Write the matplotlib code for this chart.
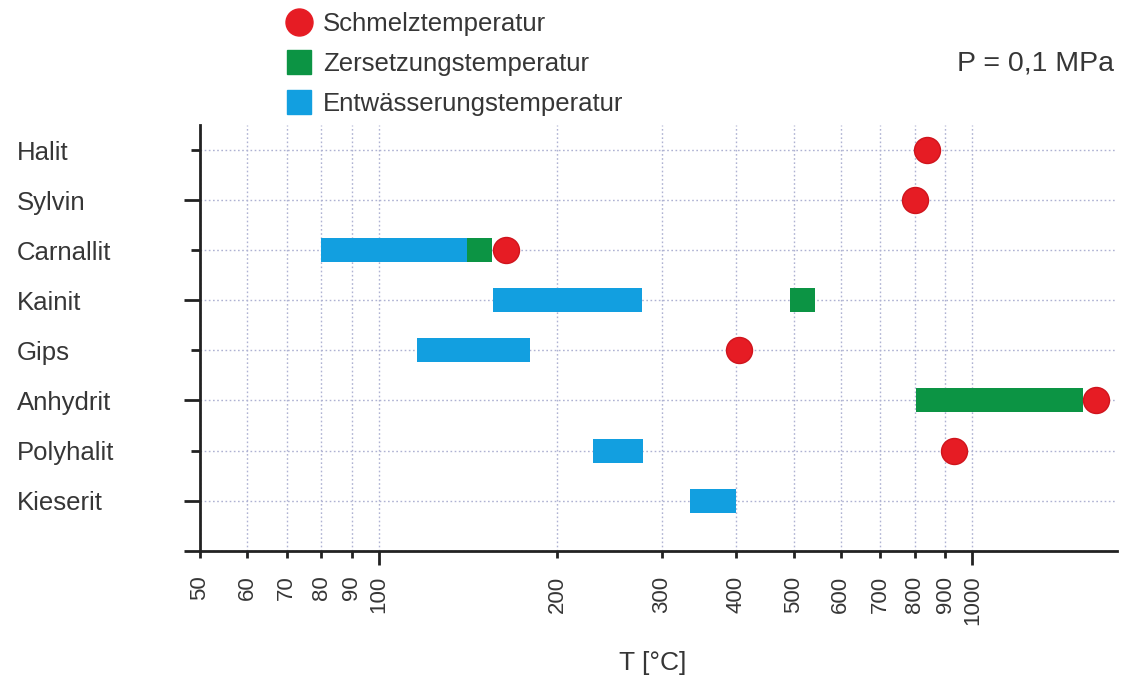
import matplotlib
matplotlib.use('Agg')
import matplotlib.pyplot as plt
import numpy as np
from matplotlib.lines import Line2D

plt.rcParams['font.family'] = ['Liberation Sans', 'DejaVu Sans']

# ---------------- data ----------------
minerals = ['Halit', 'Sylvin', 'Carnallit', 'Kainit', 'Gips', 'Anhydrit', 'Polyhalit', 'Kieserit']
nan = np.nan
melt_T = [840, 800, 164, nan, 405, 1615, 932, nan]            # Schmelztemperatur
decomp_lo = [nan, nan, 141, 492, nan, 804, nan, nan]          # Zersetzungstemperatur
decomp_hi = [nan, nan, 155, 544, nan, 1538, nan, nan]
dehyd_lo = [nan, nan, 80, 156, 116, nan, 230, 334]            # Entwässerungstemperatur
dehyd_hi = [nan, nan, 141, 278, 180, nan, 279, 400]
xtick_major = [100, 1000]
xtick_minor = [50, 60, 70, 80, 90, 200, 300, 400, 500, 600, 700, 800, 900]
legend_labels = ['Schmelztemperatur', 'Zersetzungstemperatur', 'Entwässerungstemperatur']
pressure_note = 'P = 0,1 MPa'
x_label = 'T [°C]'

RED = '#e61c24'
GREEN = '#0c9444'
BLUE = '#129fe0'
TXT = '#363636'
GRID = '#aeb2d2'

PX = 72 / 100  # points per pixel

fig = plt.figure(figsize=(11.22, 6.82), dpi=100)
ax = fig.add_axes([200 / 1122, (682 - 550.7) / 682, 917 / 1122, 425.7 / 682])
ax.set_xscale('log')
ax.set_xlim(50, 1752)
ax.set_ylim(0, 8.5)

rows = np.arange(len(minerals), 0, -1)

for y, lo, hi in zip(rows, dehyd_lo, dehyd_hi):
    if not (np.isnan(lo) or np.isnan(hi)):
        ax.barh(y, hi - lo, left=lo, height=0.48, color=BLUE, zorder=3)
for y, lo, hi in zip(rows, decomp_lo, decomp_hi):
    if not (np.isnan(lo) or np.isnan(hi)):
        ax.barh(y, hi - lo, left=lo, height=0.48, color=GREEN, zorder=3)
ax.plot(melt_T, rows, 'o', ms=26 * PX, color=RED, mec='#d0141c', mew=1, zorder=4, ls='none')

# x ticks
ax.set_xticks(xtick_major, labels=[str(v) for v in xtick_major])
ax.set_xticks(xtick_minor, labels=[str(v) for v in xtick_minor], minor=True)
ax.tick_params(axis='x', which='major', length=14 * PX, width=2, pad=11 * PX,
               labelsize=16, labelrotation=90, labelcolor=TXT, color='#222222')
ax.tick_params(axis='x', which='minor', length=7 * PX, width=2, pad=18 * PX,
               labelsize=16, labelrotation=90, labelcolor=TXT, color='#222222')

# y ticks (alternating long / short)
major_rows = [0] + list(rows[1::2])
major_labels = [''] + minerals[1::2]
minor_rows = list(rows[0::2])
minor_labels = minerals[0::2]
ax.set_yticks(major_rows, labels=major_labels)
ax.set_yticks(minor_rows, labels=minor_labels, minor=True)
ax.tick_params(axis='y', which='major', length=16 * PX, width=2,
               pad=(200 - 17 - 16) * PX, labelsize=18.5, labelcolor=TXT, color='#222222')
ax.tick_params(axis='y', which='minor', length=9 * PX, width=2,
               pad=(200 - 17 - 9) * PX, labelsize=18.5, labelcolor=TXT, color='#222222')
for lbl in ax.get_yticklabels(which='both'):
    lbl.set_ha('left')

for s in ['top', 'right']:
    ax.spines[s].set_visible(False)
for s in ['left', 'bottom']:
    ax.spines[s].set_linewidth(2)
    ax.spines[s].set_color('#222222')

ax.set_axisbelow(True)
ax.grid(True, which='both', axis='both', ls=(0, (1.2, 1.8)), color=GRID, lw=1.0)

ax.set_xlabel(x_label, fontsize=19, color=TXT, va='top')
ax.xaxis.set_label_coords(0.494, (550.7 - 651) / 425.7)

handles = [
    Line2D([], [], marker='o', ls='none', ms=27 * PX, mfc=RED, mec=RED),
    Line2D([], [], marker='s', ls='none', ms=24 * PX, mfc=GREEN, mec=GREEN),
    Line2D([], [], marker='s', ls='none', ms=24 * PX, mfc=BLUE, mec=BLUE),
]
leg = fig.legend(handles, legend_labels, loc='upper left',
                 bbox_to_anchor=(286 / 1122, 1 - 12 / 682), frameon=False,
                 fontsize=18.5, handlelength=1.0, handletextpad=0.45,
                 labelspacing=0.62, borderpad=0, borderaxespad=0)
for t in leg.get_texts():
    t.set_color(TXT)

fig.text(956.7 / 1122, 1 - 63 / 682, pressure_note, fontsize=20.5,
         va='center', ha='left', color=TXT)

fig.savefig('out.png', dpi=100)
